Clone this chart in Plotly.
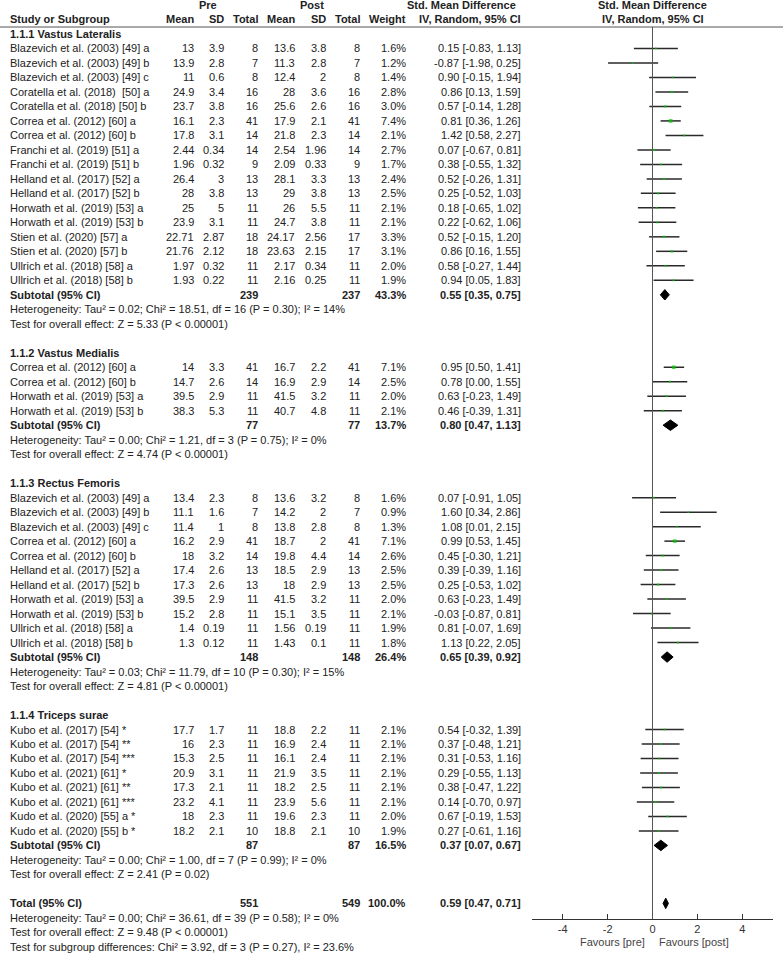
import plotly.graph_objects as go

# ---- data ----
GROUP_NAMES = ["1.1.1 Vastus Lateralis", "1.1.2 Vastus Medialis", "1.1.3 Rectus Femoris", "1.1.4 Triceps surae"]
GROUP_SIZES = [17, 4, 11, 8]

STUDY = [
    "Blazevich et al. (2003) [49] a", "Blazevich et al. (2003) [49] b", "Blazevich et al. (2003) [49] c",
    "Coratella et al. (2018)  [50] a", "Coratella et al. (2018) [50] b", "Correa et al. (2012) [60] a",
    "Correa et al. (2012) [60] b", "Franchi et al. (2019) [51] a", "Franchi et al. (2019) [51] b",
    "Helland et al. (2017) [52] a", "Helland et al. (2017) [52] b", "Horwath et al. (2019) [53] a",
    "Horwath et al. (2019) [53] b", "Stien et al. (2020) [57] a", "Stien et al. (2020) [57] b",
    "Ullrich et al. (2018) [58] a", "Ullrich et al. (2018) [58] b",
    "Correa et al. (2012) [60] a", "Correa et al. (2012) [60] b", "Horwath et al. (2019) [53] a",
    "Horwath et al. (2019) [53] b",
    "Blazevich et al. (2003) [49] a", "Blazevich et al. (2003) [49] b", "Blazevich et al. (2003) [49] c",
    "Correa et al. (2012) [60] a", "Correa et al. (2012) [60] b", "Helland et al. (2017) [52] a",
    "Helland et al. (2017) [52] b", "Horwath et al. (2019) [53] a", "Horwath et al. (2019) [53] b",
    "Ullrich et al. (2018) [58] a", "Ullrich et al. (2018) [58] b",
    "Kubo et al. (2017) [54] *", "Kubo et al. (2017) [54] **", "Kubo et al. (2017) [54] ***",
    "Kubo et al. (2021) [61] *", "Kubo et al. (2021) [61] **", "Kubo et al. (2021) [61] ***",
    "Kudo et al. (2020) [55] a *", "Kudo et al. (2020) [55] b *",
]
PRE_MEAN = [13, 13.9, 11, 24.9, 23.7, 16.1, 17.8, 2.44, 1.96, 26.4, 28, 25, 23.9, 22.71, 21.76, 1.97, 1.93,
            14, 14.7, 39.5, 38.3,
            13.4, 11.1, 11.4, 16.2, 18, 17.4, 17.3, 39.5, 15.2, 1.4, 1.3,
            17.7, 16, 15.3, 20.9, 17.3, 23.2, 18, 18.2]
PRE_SD = [3.9, 2.8, 0.6, 3.4, 3.8, 2.3, 3.1, 0.34, 0.32, 3, 3.8, 5, 3.1, 2.87, 2.12, 0.32, 0.22,
          3.3, 2.6, 2.9, 5.3,
          2.3, 1.6, 1, 2.9, 3.2, 2.6, 2.6, 2.9, 2.8, 0.19, 0.12,
          1.7, 2.3, 2.5, 3.1, 2.1, 4.1, 2.3, 2.1]
PRE_N = [8, 7, 8, 16, 16, 41, 14, 14, 9, 13, 13, 11, 11, 18, 18, 11, 11,
         41, 14, 11, 11,
         8, 7, 8, 41, 14, 13, 13, 11, 11, 11, 11,
         11, 11, 11, 11, 11, 11, 11, 10]
POST_MEAN = [13.6, 11.3, 12.4, 28, 25.6, 17.9, 21.8, 2.54, 2.09, 28.1, 29, 26, 24.7, 24.17, 23.63, 2.17, 2.16,
             16.7, 16.9, 41.5, 40.7,
             13.6, 14.2, 13.8, 18.7, 19.8, 18.5, 18, 41.5, 15.1, 1.56, 1.43,
             18.8, 16.9, 16.1, 21.9, 18.2, 23.9, 19.6, 18.8]
POST_SD = [3.8, 2.8, 2, 3.6, 2.6, 2.1, 2.3, 1.96, 0.33, 3.3, 3.8, 5.5, 3.8, 2.56, 2.15, 0.34, 0.25,
           2.2, 2.9, 3.2, 4.8,
           3.2, 2, 2.8, 2, 4.4, 2.9, 2.9, 3.2, 3.5, 0.19, 0.1,
           2.2, 2.4, 2.4, 3.5, 2.5, 5.6, 2.3, 2.1]
POST_N = [8, 7, 8, 16, 16, 41, 14, 14, 9, 13, 13, 11, 11, 17, 17, 11, 11,
          41, 14, 11, 11,
          8, 7, 8, 41, 14, 13, 13, 11, 11, 11, 11,
          11, 11, 11, 11, 11, 11, 11, 10]
WEIGHT = [1.6, 1.2, 1.4, 2.8, 3.0, 7.4, 2.1, 2.7, 1.7, 2.4, 2.5, 2.1, 2.1, 3.3, 3.1, 2.0, 1.9,
          7.1, 2.5, 2.0, 2.1,
          1.6, 0.9, 1.3, 7.1, 2.6, 2.5, 2.5, 2.0, 2.1, 1.9, 1.8,
          2.1, 2.1, 2.1, 2.1, 2.1, 2.1, 2.0, 1.9]
SMD = [0.15, -0.87, 0.90, 0.86, 0.57, 0.81, 1.42, 0.07, 0.38, 0.52, 0.25, 0.18, 0.22, 0.52, 0.86, 0.58, 0.94,
       0.95, 0.78, 0.63, 0.46,
       0.07, 1.60, 1.08, 0.99, 0.45, 0.39, 0.25, 0.63, -0.03, 0.81, 1.13,
       0.54, 0.37, 0.31, 0.29, 0.38, 0.14, 0.67, 0.27]
CI_LO = [-0.83, -1.98, -0.15, 0.13, -0.14, 0.36, 0.58, -0.67, -0.55, -0.26, -0.52, -0.65, -0.62, -0.15, 0.16, -0.27, 0.05,
         0.50, 0.00, -0.23, -0.39,
         -0.91, 0.34, 0.01, 0.53, -0.30, -0.39, -0.53, -0.23, -0.87, -0.07, 0.22,
         -0.32, -0.48, -0.53, -0.55, -0.47, -0.70, -0.19, -0.61]
CI_HI = [1.13, 0.25, 1.94, 1.59, 1.28, 1.26, 2.27, 0.81, 1.32, 1.31, 1.03, 1.02, 1.06, 1.20, 1.55, 1.44, 1.83,
         1.41, 1.55, 1.49, 1.31,
         1.05, 2.86, 2.15, 1.45, 1.21, 1.16, 1.02, 1.49, 0.81, 1.69, 2.05,
         1.39, 1.21, 1.16, 1.13, 1.22, 0.97, 1.53, 1.16]

SUB_PRE_N = [239, 77, 148, 87]
SUB_POST_N = [237, 77, 148, 87]
SUB_WEIGHT = [43.3, 13.7, 26.4, 16.5]
SUB_SMD = [0.55, 0.80, 0.65, 0.37]
SUB_LO = [0.35, 0.47, 0.39, 0.07]
SUB_HI = [0.75, 1.13, 0.92, 0.67]
SUB_HET = [
    "Heterogeneity: Tau² = 0.02; Chi² = 18.51, df = 16 (P = 0.30); I² = 14%",
    "Heterogeneity: Tau² = 0.00; Chi² = 1.21, df = 3 (P = 0.75); I² = 0%",
    "Heterogeneity: Tau² = 0.03; Chi² = 11.79, df = 10 (P = 0.30); I² = 15%",
    "Heterogeneity: Tau² = 0.00; Chi² = 1.00, df = 7 (P = 0.99); I² = 0%",
]
SUB_TEST = [
    "Test for overall effect: Z = 5.33 (P &lt; 0.00001)",
    "Test for overall effect: Z = 4.74 (P &lt; 0.00001)",
    "Test for overall effect: Z = 4.81 (P &lt; 0.00001)",
    "Test for overall effect: Z = 2.41 (P = 0.02)",
]

TOTAL_PRE_N, TOTAL_POST_N, TOTAL_WEIGHT = 551, 549, 100.0
TOTAL_SMD, TOTAL_LO, TOTAL_HI = 0.59, 0.47, 0.71
TOTAL_LINES = [
    "Heterogeneity: Tau² = 0.00; Chi² = 36.61, df = 39 (P = 0.58); I² = 0%",
    "Test for overall effect: Z = 9.48 (P &lt; 0.00001)",
    "Test for subgroup differences: Chi² = 3.92, df = 3 (P = 0.27), I² = 23.6%",
]
TICKS = [-4, -2, 0, 2, 4]

# ---- layout constants (pixels) ----
W, H = 783, 955
ROW_H = 14.49
ROW0 = -0.345
FONT = "Liberation Sans, Arial, sans-serif"
TXT = "#222222"
COL_X = [196, 226, 260, 297, 328, 362, 408, 523]  # right edges of numeric columns
NAME_X = 8
AXIS_Y_PX = 919
PLOT_L, PLOT_R = 532, 773
XR = 5.37


def px_to_row(py):
    return py / ROW_H + ROW0


annotations = []


def txt(x, row, s, anchor="left", bold=False, color=TXT, xref="x2"):
    annotations.append(dict(
        x=x, y=row, xref=xref, yref="y", text=f"<b>{s}</b>" if bold else s,
        xanchor=anchor, yanchor="middle", showarrow=False,
        font=dict(family=FONT, size=11, color=color),
    ))


# headers
txt(208, 0, "Pre", "center", bold=True)
txt(312, 0, "Post", "center", bold=True)
txt(518, 0, "Std. Mean Difference", "right", bold=True)
txt(0, 0, "Std. Mean Difference", "center", bold=True, xref="x")
txt(NAME_X, 1, "Study or Subgroup", bold=True)
for x, lab in zip(COL_X, ["Mean", "SD", "Total", "Mean", "SD", "Total", "Weight", "IV, Random, 95% CI"]):
    txt(x, 1, lab, "right", bold=True)
txt(0, 1, "IV, Random, 95% CI", "center", bold=True, xref="x")

fmt = lambda v: f"{v:g}"
ci = lambda e, lo, hi: f"{e:.2f} [{lo:.2f}, {hi:.2f}]"

study_rows = []
diamonds = []
r = 2
i = 0
for g, name in enumerate(GROUP_NAMES):
    txt(NAME_X, r, name, bold=True)
    r += 1
    for _ in range(GROUP_SIZES[g]):
        vals = [fmt(PRE_MEAN[i]), fmt(PRE_SD[i]), str(PRE_N[i]), fmt(POST_MEAN[i]), fmt(POST_SD[i]),
                str(POST_N[i]), f"{WEIGHT[i]:.1f}%", ci(SMD[i], CI_LO[i], CI_HI[i])]
        txt(NAME_X, r, STUDY[i])
        for x, v in zip(COL_X, vals):
            txt(x, r, v, "right")
        study_rows.append(r)
        i += 1
        r += 1
    txt(NAME_X, r, "Subtotal (95% CI)", bold=True)
    txt(COL_X[2], r, str(SUB_PRE_N[g]), "right", bold=True)
    txt(COL_X[5], r, str(SUB_POST_N[g]), "right", bold=True)
    txt(COL_X[6], r, f"{SUB_WEIGHT[g]:.1f}%", "right", bold=True)
    txt(COL_X[7], r, ci(SUB_SMD[g], SUB_LO[g], SUB_HI[g]), "right", bold=True)
    diamonds.append((r, SUB_LO[g], SUB_SMD[g], SUB_HI[g]))
    txt(NAME_X, r + 1, SUB_HET[g])
    txt(NAME_X, r + 2, SUB_TEST[g])
    r += 4

txt(NAME_X, r, "Total (95% CI)", bold=True)
txt(COL_X[2], r, str(TOTAL_PRE_N), "right", bold=True)
txt(COL_X[5], r, str(TOTAL_POST_N), "right", bold=True)
txt(COL_X[6], r, f"{TOTAL_WEIGHT:.1f}%", "right", bold=True)
txt(COL_X[7], r, ci(TOTAL_SMD, TOTAL_LO, TOTAL_HI), "right", bold=True)
diamonds.append((r, TOTAL_LO, TOTAL_SMD, TOTAL_HI))
for k, line in enumerate(TOTAL_LINES):
    txt(NAME_X, r + 1 + k, line)

fav_row = px_to_row(942)
txt(647, fav_row, "Favours [pre]", "right", color="#444444")
txt(657, fav_row, "Favours [post]", "left", color="#444444")

fig = go.Figure()

# invisible anchor trace for the table axis
fig.add_trace(go.Scatter(x=[0, W], y=[0, 0], xaxis="x2", yaxis="y", mode="markers",
                         marker=dict(opacity=0), hoverinfo="skip"))

# confidence interval whiskers
wx, wy = [], []
for lo, hi, rr in zip(CI_LO, CI_HI, study_rows):
    wx += [lo, hi, None]
    wy += [rr, rr, None]
fig.add_trace(go.Scatter(x=wx, y=wy, xaxis="x", yaxis="y2", mode="lines",
                         line=dict(color="#2a2a2a", width=1.5), hoverinfo="skip"))

# point estimates
fig.add_trace(go.Scatter(
    x=SMD, y=study_rows, xaxis="x", yaxis="y2", mode="markers",
    marker=dict(symbol="square", color="#00cc00", size=[1.3 + 0.33 * w for w in WEIGHT], line=dict(width=0)),
    hoverinfo="skip",
))

# pooled diamonds
for rr, lo, est, hi in diamonds:
    fig.add_trace(go.Scatter(
        x=[lo, est, hi, est, lo], y=[rr, rr - 0.36, rr, rr + 0.36, rr], xaxis="x", yaxis="y2",
        mode="lines", fill="toself", fillcolor="black", line=dict(color="black", width=1), hoverinfo="skip",
    ))

shapes = [
    dict(type="line", xref="x2", yref="y", x0=0, x1=W, y0=px_to_row(27), y1=px_to_row(27),
         line=dict(color="#555555", width=1)),
    dict(type="line", xref="x", yref="y", x0=0, x1=0, y0=px_to_row(27), y1=px_to_row(AXIS_Y_PX),
         line=dict(color="#555555", width=1)),
]

fig.update_layout(
    width=W, height=H,
    margin=dict(l=0, r=0, t=0, b=0),
    paper_bgcolor="white", plot_bgcolor="rgba(0,0,0,0)",
    showlegend=False,
    xaxis=dict(
        domain=[PLOT_L / W, PLOT_R / W], range=[-XR, XR], anchor="y2",
        showline=True, linecolor="#333333", linewidth=1, ticks="inside", ticklen=5, tickcolor="#333333",
        tickvals=TICKS, ticktext=[str(t) for t in TICKS], showgrid=False, zeroline=False,
        tickfont=dict(family=FONT, size=11, color="#333333"), fixedrange=True,
    ),
    yaxis2=dict(domain=[1 - AXIS_Y_PX / H, 1], range=[px_to_row(AXIS_Y_PX), px_to_row(0)],
                anchor="x", visible=False, fixedrange=True),
    xaxis2=dict(domain=[0, 1], range=[0, W], anchor="y", visible=False, fixedrange=True),
    yaxis=dict(domain=[0, 1], range=[px_to_row(H), px_to_row(0)], anchor="x2", visible=False, fixedrange=True),
    annotations=annotations,
    shapes=shapes,
)

fig.write_html("out.html", config={"displayModeBar": False},
               post_script="document.body.style.margin = '0px';")
